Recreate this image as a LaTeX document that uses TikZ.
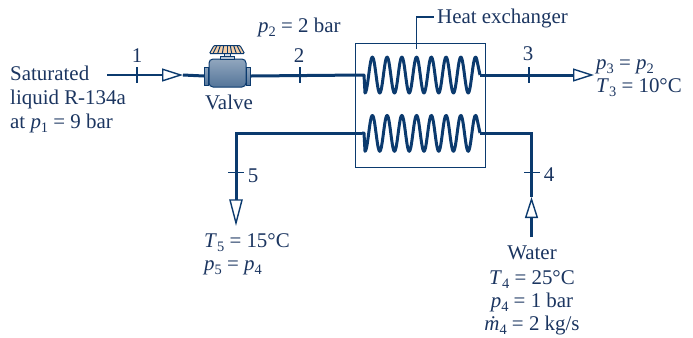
\documentclass[tikz,border=0pt]{standalone}
\usepackage{fontspec}
\setmainfont{Liberation Serif}
\usetikzlibrary{arrows.meta}
\definecolor{pipeblue}{HTML}{0B3A6E}
\definecolor{textblue}{HTML}{1B3560}
\definecolor{knobpeach}{HTML}{F6CFA6}
\newcommand{\qty}[2]{\textit{#1}\raisebox{-4bp}{\fontsize{14.5}{15}\selectfont #2}}
\tikzset{
  pipe/.style={draw=pipeblue, line width=3bp},
  thinpipe/.style={draw=pipeblue, line width=1.5bp},
  thinline/.style={draw=pipeblue, line width=1.1bp},
  flowtip/.style={-{Triangle[open, length=21bp, width=13bp, line width=1.4bp]}},
  lbl/.style={text=textblue, inner sep=0pt, font=\fontsize{21}{24}\selectfont},
  metal/.style={draw=pipeblue, line width=1bp, top color=pipeblue!45!white, middle color=pipeblue!15!white, bottom color=pipeblue!70!white},
}
\begin{document}
\begin{tikzpicture}[x=1bp, y=-1bp]
  \useasboundingbox (0,0) rectangle (693,337);
  % heat exchanger
  \node[thinline, minimum width=130bp, minimum height=124bp, inner sep=0pt] (hx) at (420.5,105.5) {};
  \draw[pipe, line join=round] (362,75) -- (364,75) -- plot[domain=365:476.7, samples=160, smooth] (\x, {75+18*cos(24.42*(\x-365))}) -- (480,75);
  \draw[pipe, line join=round] (362,133) -- (364,133) -- plot[domain=365:476.7, samples=160, smooth] (\x, {133.3+18*cos(24.42*(\x-365))}) -- (480,133);
  % points on the lines
  \coordinate (in) at (107,75);
  \coordinate (tipA) at (183,75);
  \coordinate (hxA) at (362,75);
  \coordinate (hxB) at (480,75);
  \coordinate (out) at (594,75);
  \coordinate (hxC) at (362,133);
  \coordinate (hxD) at (480,133);
  \coordinate (cornerL) at (236,133);
  \coordinate (cornerR) at (531.5,133);
  \coordinate (tipL) at (236,223);
  \coordinate (tipR) at (531.5,197);
  \coordinate (water) at (531.5,237);
  % valve
  \node[metal, rounded corners=4bp, minimum width=37bp, minimum height=28bp, inner sep=0pt] (valve) at (227.5,73) {};
  \node[metal, minimum width=4bp, minimum height=18bp, inner sep=0pt, anchor=east] (flangeL) at (209,76) {};
  \node[metal, minimum width=4bp, minimum height=18bp, inner sep=0pt, anchor=west] (flangeR) at (246,76) {};
  \filldraw[draw=pipeblue, line width=1bp, fill=pipeblue!30!white] (220.7,59) -- (220.7,56.5) -- (234,56.5) -- (234,59) -- cycle;
  \filldraw[draw=pipeblue, line width=1bp, fill=pipeblue!15!white] (224,56.5) -- (224,53) -- (230,53) -- (230,56.5) -- cycle;
  \filldraw[draw=pipeblue, line width=1bp, fill=knobpeach, rounded corners=1bp] (209.5,53.5) -- (214,45.5) -- (240,45.5) -- (244.5,53.5) -- cycle;
  \foreach \k in {-3,...,3}
    \draw[pipeblue, line width=1bp] ({227+\k*3.4},46) -- ({227+\k*4.6},53);
  % lines
  \draw[thinpipe, flowtip] (in) -- (tipA);
  \draw[pipe] (tipA) -- (flangeL.west);
  \draw[pipe] (flangeR.east) -- (hxA);
  \draw[pipe, flowtip] (hxB) -- (out);
  \draw[pipe] (hxC) -- (cornerL) -- (236,200);
  \draw[thinline, line width=1.4bp, fill=white] (230,200) -- (tipL) -- (242,200) -- cycle;
  \draw[pipe] (hxD) -- (cornerR) -- (531.5,197);
  \draw[pipe, flowtip] (water) -- (tipR);
  % ticks
  \draw[thinline] (137,67) -- (137,83);
  \draw[thinline] (300,67) -- (300,83);
  \draw[thinline] (529,67) -- (529,83);
  \draw[thinline] (228,172.7) -- (244,172.7);
  \draw[thinline] (524,172.7) -- (540,172.7);
  % leader of the heat exchanger
  \coordinate (leader) at (416.7,49);
  \draw[thinline] (leader) -- (416.7,17) -- (434,17);
  % labels
  \node[lbl, anchor=base] (n1) at (137,62) {1};
  \node[lbl, anchor=base] (n2) at (299,62) {2};
  \node[lbl, anchor=base] (n3) at (528,60) {3};
  \node[lbl, anchor=base] (n4) at (549,181) {4};
  \node[lbl, anchor=base] (n5) at (253,182) {5};
  \node[lbl, anchor=base west] (hxlabel) at (437,23) {Heat exchanger};
  \node[lbl, anchor=base west] (p2label) at (258,32) {\qty{p}{2} = 2 bar};
  \node[lbl, anchor=base west] (inlabel1) at (10,80) {Saturated};
  \node[lbl, anchor=base west] (inlabel2) at (10,104) {liquid R-134a};
  \node[lbl, anchor=base west] (inlabel3) at (10,128) {at \qty{p}{1} = 9 bar};
  \node[lbl, anchor=base] (valvelabel) at (229,109) {Valve};
  \node[lbl, anchor=base west] (outlabel1) at (596,69) {\qty{p}{3} = \qty{p}{2}};
  \node[lbl, anchor=base west] (outlabel2) at (596,92) {\qty{T}{3} = 10°C};
  \node[lbl, anchor=base west] (t5label) at (204,247) {\qty{T}{5} = 15°C};
  \node[lbl, anchor=base west] (p5label) at (204,270) {\qty{p}{5} = \qty{p}{4}};
  \node[lbl, anchor=base] (waterlabel) at (532,259) {Water};
  \node[lbl, anchor=base] (t4label) at (532,284) {\qty{T}{4} = 25°C};
  \node[lbl, anchor=base] (p4label) at (532,307) {\qty{p}{4} = 1 bar};
  \node[lbl, anchor=base] (m4label) at (532,330) {\qty{\.m}{4} = 2 kg/s};
\end{tikzpicture}
\end{document}
